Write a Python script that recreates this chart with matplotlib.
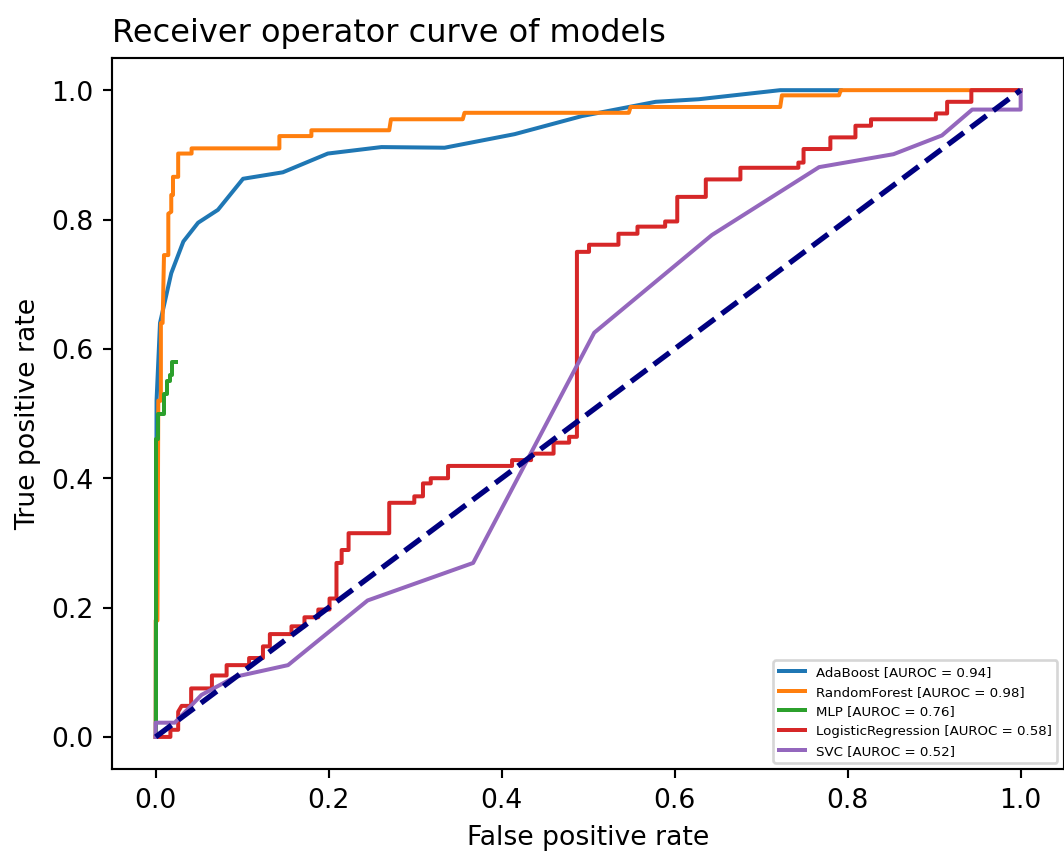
import matplotlib
matplotlib.use('Agg')
import matplotlib.pyplot as plt

# ROC points (fpr, tpr)
ada_fpr = [0.0, 0.001, 0.005, 0.018, 0.032, 0.049, 0.072, 0.101, 0.147, 0.199, 0.261,
           0.334, 0.415, 0.493, 0.551, 0.578, 0.628, 0.722, 0.792]
ada_tpr = [0.0, 0.52, 0.64, 0.717, 0.766, 0.795, 0.815, 0.863, 0.873, 0.902, 0.912,
           0.911, 0.932, 0.960, 0.975, 0.982, 0.986, 1.0, 1.0]

rf_fpr = [0.0, 0.0, 0.002, 0.003, 0.006, 0.006, 0.008, 0.0096, 0.0146, 0.0146, 0.018, 0.018,
          0.020, 0.020, 0.026, 0.026, 0.0415, 0.0415, 0.143, 0.143, 0.180, 0.180, 0.270,
          0.272, 0.355, 0.357, 0.547, 0.549, 0.722, 0.724, 0.790, 0.792, 1.0]
rf_tpr = [0.0, 0.18, 0.18, 0.52, 0.52, 0.64, 0.64, 0.745, 0.745, 0.809, 0.812, 0.838,
          0.838, 0.866, 0.866, 0.902, 0.902, 0.910, 0.910, 0.929, 0.929, 0.938, 0.938,
          0.955, 0.955, 0.965, 0.965, 0.974, 0.974, 0.992, 0.992, 1.0, 1.0]

mlp_fpr = [0.0, 0.0, 0.003, 0.003, 0.010, 0.010, 0.013, 0.013, 0.016, 0.016, 0.019, 0.019, 0.023]
mlp_tpr = [0.0, 0.46, 0.46, 0.50, 0.50, 0.53, 0.53, 0.55, 0.55, 0.56, 0.56, 0.58, 0.58]

lr_fpr = [0.0, 0.017, 0.017, 0.026, 0.026, 0.030, 0.041, 0.041, 0.065, 0.065, 0.082, 0.082,
          0.108, 0.108, 0.124, 0.124, 0.132, 0.132, 0.157, 0.157, 0.172, 0.172, 0.188, 0.188,
          0.201, 0.201, 0.209, 0.209, 0.215, 0.215, 0.223, 0.223, 0.270, 0.270, 0.299, 0.299,
          0.309, 0.309, 0.318, 0.318, 0.338, 0.338, 0.412, 0.412, 0.434, 0.434, 0.460, 0.460,
          0.478, 0.478, 0.487, 0.487, 0.501, 0.501, 0.535, 0.535, 0.557, 0.557, 0.589, 0.589,
          0.603, 0.603, 0.636, 0.636, 0.676, 0.676, 0.743, 0.743, 0.749, 0.749, 0.780, 0.780,
          0.809, 0.809, 0.827, 0.827, 0.902, 0.902, 0.915, 0.915, 0.943, 0.943, 1.0]
lr_tpr = [0.0, 0.0, 0.011, 0.011, 0.039, 0.048, 0.048, 0.075, 0.075, 0.095, 0.095, 0.111,
          0.111, 0.122, 0.122, 0.140, 0.140, 0.159, 0.159, 0.171, 0.171, 0.185, 0.185, 0.197,
          0.197, 0.214, 0.214, 0.269, 0.269, 0.289, 0.289, 0.315, 0.315, 0.362, 0.362, 0.372,
          0.372, 0.392, 0.392, 0.400, 0.400, 0.419, 0.419, 0.428, 0.428, 0.438, 0.438, 0.455,
          0.455, 0.464, 0.464, 0.750, 0.750, 0.761, 0.761, 0.778, 0.778, 0.789, 0.789, 0.797,
          0.797, 0.835, 0.835, 0.862, 0.862, 0.880, 0.880, 0.888, 0.888, 0.909, 0.909, 0.927,
          0.927, 0.945, 0.945, 0.955, 0.955, 0.964, 0.964, 0.982, 0.982, 1.0, 1.0]

svc_fpr = [0.0, 0.0, 0.022, 0.053, 0.092, 0.153, 0.245, 0.367, 0.507, 0.643, 0.767, 0.853,
           0.909, 0.944, 1.0, 1.0]
svc_tpr = [0.0, 0.022, 0.022, 0.065, 0.093, 0.111, 0.211, 0.269, 0.625, 0.776, 0.881, 0.901,
           0.930, 0.970, 0.970, 1.0]

models = ['AdaBoost', 'RandomForest', 'MLP', 'LogisticRegression', 'SVC']
aurocs = [0.94, 0.98, 0.76, 0.58, 0.52]
curves = [(ada_fpr, ada_tpr), (rf_fpr, rf_tpr), (mlp_fpr, mlp_tpr),
          (lr_fpr, lr_tpr), (svc_fpr, svc_tpr)]

dpi = 192
fig = plt.figure(figsize=(1064.4 / dpi, 855.4 / dpi), dpi=dpi)
ax = fig.add_axes([112.4 / 1064, 85.7 / 855, (1063.5 - 112.4) / 1064, (769.3 - 58.2) / 855])

for name, auc, (fpr, tpr) in zip(models, aurocs, curves):
    ax.plot(fpr, tpr, label=f'{name} [AUROC = {auc:.2f}]')

ax.plot([0, 1], [0, 1], color='navy', lw=2, linestyle='--')

ax.set_xlabel('False positive rate')
ax.set_ylabel('True positive rate')
ax.set_title('Receiver operator curve of models', loc='left')
ax.legend(loc='lower right', fontsize=5)

fig.savefig('out.png', dpi=dpi)
